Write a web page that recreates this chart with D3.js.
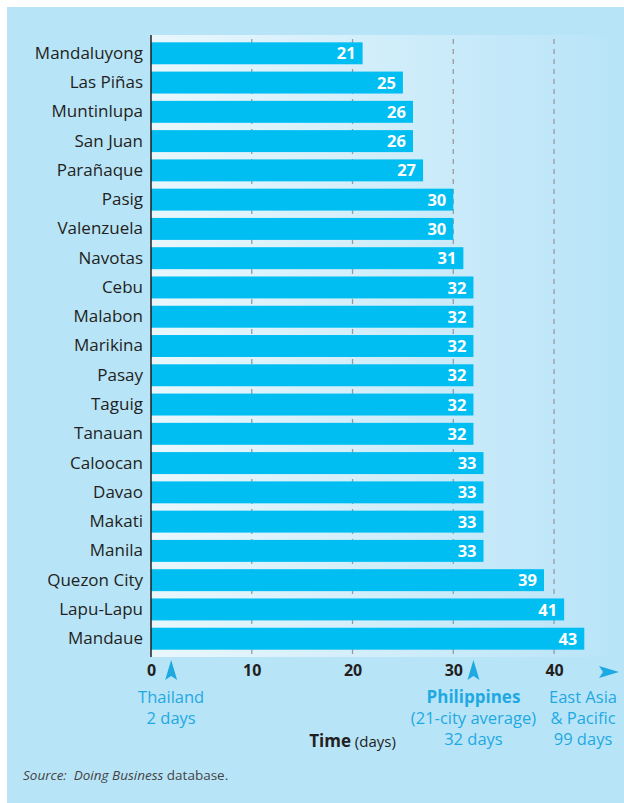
<!DOCTYPE html>
<html>
<head>
<meta charset="utf-8">
<script src="https://cdn.jsdelivr.net/npm/d3@7"></script>
<style>
  body { margin: 0; background: #fff; }
  svg { display: block; }
</style>
</head>
<body>
<svg id="chart"></svg>
<script>
// city names, top to bottom
const cities = ["Mandaluyong", "Las Piñas", "Muntinlupa", "San Juan", "Parañaque", "Pasig",
  "Valenzuela", "Navotas", "Cebu", "Malabon", "Marikina", "Pasay", "Taguig", "Tanauan",
  "Caloocan", "Davao", "Makati", "Manila", "Quezon City", "Lapu-Lapu", "Mandaue"];
// days to start a business
const days = [21, 25, 26, 26, 27, 30, 30, 31, 32, 32, 32, 32, 32, 32, 33, 33, 33, 33, 39, 41, 43];
const tickValues = [0, 10, 20, 30, 40];
// comparison markers below the axis
const markers = [
  {value: 2, lines: ["Thailand", "2 days"]},
  {value: 32, lines: ["Philippines", "(21-city average)", "32 days"]}
];
const offChart = {label: ["East Asia", "& Pacific", "99 days"], value: 99};

const data = cities.map((c, i) => ({name: c, value: days[i]}));

const width = 624, height = 803;
const margin = ({top: 35, right: 12, bottom: 146, left: 151});
const font = "'Open Sans', 'Noto Sans', sans-serif";
const barColor = "#00bef2";
const noteColor = "#1fa9e2";
const dark = "#231f20";

const svg = d3.select("#chart")
    .attr("width", width)
    .attr("height", height)
    .attr("viewBox", [0, 0, width, height]);

// panel background
svg.append("rect")
    .attr("x", 7).attr("y", 7)
    .attr("width", width - 7).attr("height", height - 7)
    .attr("fill", "#b8e4f8");

const grad = svg.append("defs").append("linearGradient")
    .attr("id", "plotbg")
    .attr("x1", "0%").attr("x2", "100%");
grad.append("stop").attr("offset", "0%").attr("stop-color", "#e9f7fd");
grad.append("stop").attr("offset", "100%").attr("stop-color", "#b9e4f8");

const plotBottom = height - margin.bottom;

let x = d3.scaleLinear()
    .domain([0, 45.75])
    .range([margin.left, width - margin.right]);

let y = d3.scaleBand()
    .domain(data.map(d => d.name))
    .range([margin.top, plotBottom])
    .paddingInner(0.25)
    .paddingOuter(0.25);

svg.append("rect")
    .attr("x", margin.left).attr("y", margin.top)
    .attr("width", width - margin.right - margin.left)
    .attr("height", plotBottom - margin.top)
    .attr("fill", "url(#plotbg)");

// dashed gridlines behind the bars
svg.append("g")
    .attr("stroke", "#9a9a9a")
    .attr("stroke-width", 1.3)
    .attr("stroke-dasharray", "5,5")
    .selectAll("line")
    .data(tickValues.slice(1))
    .join("line")
    .attr("x1", d => x(d)).attr("x2", d => x(d))
    .attr("y1", margin.top + 4).attr("y2", plotBottom);

// bars
svg.append("g")
    .attr("fill", barColor)
    .selectAll("rect")
    .data(data)
    .join("rect")
    .attr("x", x(0))
    .attr("y", d => y(d.name))
    .attr("width", d => x(d.value) - x(0))
    .attr("height", y.bandwidth());

// value labels inside bars
svg.append("g")
    .attr("fill", "#fff")
    .attr("text-anchor", "end")
    .style("font", `bold 16.5px ${font}`)
    .selectAll("text")
    .data(data)
    .join("text")
    .attr("x", d => x(d.value) - 7)
    .attr("y", d => y(d.name) + y.bandwidth() / 2)
    .attr("dy", "0.37em")
    .text(d => d.value);

// category axis
let yAxis = g => g
    .attr("transform", `translate(${margin.left},0)`)
    .call(d3.axisLeft(y).tickSize(0).tickPadding(8))
    .call(g => g.select(".domain").attr("stroke", dark).attr("stroke-width", 1.5)
        .attr("d", `M0,${margin.top}V${plotBottom}`))
    .call(g => g.selectAll("text")
        .attr("fill", dark)
        .style("font", `17px ${font}`));

svg.append("g").call(yAxis);

// value axis
let xAxis = g => g
    .attr("transform", `translate(0,${plotBottom})`)
    .call(d3.axisBottom(x).tickValues(tickValues).tickSize(0).tickPadding(8))
    .call(g => g.select(".domain").remove())
    .call(g => g.selectAll("text")
        .attr("fill", dark)
        .style("font", `bold 16px ${font}`));

svg.append("g").call(xAxis);

// up arrows for comparisons
const arrowUp = "M0,-10L6,10L0,6L-6,10Z";
const mk = svg.append("g").selectAll("g")
    .data(markers)
    .join("g")
    .attr("transform", d => `translate(${x(d.value)},0)`);

mk.append("path")
    .attr("transform", "translate(0,670)")
    .attr("d", arrowUp)
    .attr("fill", noteColor);

mk.each(function(d) {
    const t = d3.select(this).append("text")
        .attr("text-anchor", "middle")
        .attr("fill", noteColor)
        .style("font", `16.5px ${font}`);
    const isPh = d.lines.length === 3;
    d.lines.forEach((line, i) => {
        t.append("tspan")
            .attr("x", 0)
            .attr("y", 703 + i * 21)
            .style("font-weight", isPh && i === 0 ? "bold" : "normal")
            .style("font-size", isPh && i === 0 ? "17px" : "16.5px")
            .text(line);
    });
});

// off-chart marker (East Asia & Pacific)
svg.append("path")
    .attr("transform", "translate(609,672) rotate(90)")
    .attr("d", arrowUp)
    .attr("fill", noteColor);

svg.append("text")
    .attr("text-anchor", "middle")
    .attr("fill", noteColor)
    .style("font", `16.5px ${font}`)
    .selectAll("tspan")
    .data(offChart.label)
    .join("tspan")
    .attr("x", 583)
    .attr("y", (d, i) => 703 + i * 21)
    .text(d => d);

// axis title
const title = svg.append("text")
    .attr("x", x(20))
    .attr("y", 747)
    .attr("text-anchor", "middle")
    .attr("fill", dark);
title.append("tspan").style("font", `bold 17px ${font}`).text("Time");
title.append("tspan").style("font", `15px ${font}`).text(" (days)");

// source note
const src = svg.append("text")
    .attr("x", 23)
    .attr("y", 780)
    .attr("fill", "#444")
    .style("white-space", "pre")
    .style("font", `13.5px ${font}`);
src.append("tspan").style("font-style", "italic").text("Source:  Doing Business");
src.append("tspan").text(" database.");
</script>
</body>
</html>
